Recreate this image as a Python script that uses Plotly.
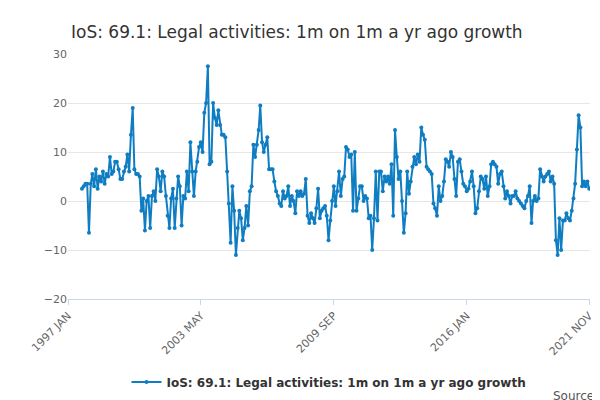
import plotly.graph_objects as go
import pandas as pd

values = [2.5, 3, 3.5, 3.5,
 -6.5, 3.5, 5.5, 3, 6.5, 2.5, 5, 4, 6, 3.5, 5.5, 5,
 9, 5.5, 6, 8, 8, 6.5, 4.5, 4.5, 6, 7, 9.5, 6,
 13.5, 19, 6.5, 5.5, 5.5, 5, -2, 0.5, -6, 0, 1, -5.5,
 1, 2, 0, 6.5, 5, 2, 6, 5, 1, -3, -5.5, 0.5,
 2.5, -5.5, 0.5, 5, 3, -5, 1, 0.5, 6, 2, 12, 6,
 1, 6, 8, 11, 12, 10, 18, 20, 27.5, 7.5, 8, 20,
 17, 15.5, 18.5, 15.5, 13.5, 13.5, 13, 6, -0.5, -8.5, 3, -2,
 -11, -5.5, -2, -3.5, -8, -5.5, -1, -5, 2, 3, 11.5, 9,
 11.5, 14.5, 19.5, 12, 10, 11.5, 13, 6.5, 6.5, 6.5, 4, 2,
 1, -0.5, -1, 2, 0.5, 1, 3, -1, 1, 0, -2.5, 2,
 1, 2, 1, 1.5, 4.5, -3, -4.5, -2.5, -3.5, -4.5, -1.5, 2.5,
 -3.5, -2, -1.5, -1, -3, -8, -4, 0, 3, -1, 2, 6,
 1, 4.5, 5, 11, 10.5, 9, 9.5, -2, 10, -2, 0.5, 3,
 3, 0, 1, 0.5, -3.5, -3, -10, -3.5, 6, -4, 6, 6,
 2, 5, 4, 5, 3.5, 7.5, -3, 14.5, 9, 4.5, 6, 0,
 -6.5, -2.5, 6, 1.5, 4, 7, 9, 7.5, 9.5, 8, 15, 13.5,
 12.5, 7, 6.5, 6, 5.5, -0.5, -1.5, -3, 3, 0, 1, 4,
 8.5, 8, 7, 10, 9, 4.5, 1, 8, 8.5, 6, 3.5, 3,
 2, 2.5, 4, 6, 3, -2.5, -1.5, 2, 5, 4.5, 2.5, 5,
 1, 3, 7.5, 8, 7.5, 7, 3.5, 5.5, 6, 3, 0.5, 2,
 1, -0.5, 1, 1, 2, 0.5, 0, -0.5, -1, -1.5, 0, 1,
 3, -4.5, 0, 1, 0, 0.5, 6.5, 5, 4, 5, 5.5, 6,
 4, 5, 3.5, -8, -11, -3.5, -10, -4, -4, -2.5, -3.5, -4,
 -2, 0.5, 3.5, 10.5, 17.5, 15, 3, 4, 3, 4, 2.5]
dates = pd.date_range("1997-09-01", periods=len(values), freq="MS")
tick_vals = ["1997-01-01", "2003-05-01", "2009-09-01", "2016-01-01", "2021-11-01"]
tick_text = ["1997 JAN", "2003 MAY", "2009 SEP", "2016 JAN", "2021 NOV"]
name = "IoS: 69.1: Legal activities: 1m on 1m a yr ago growth"

fig = go.Figure(go.Scatter(x=dates, y=values, mode="lines+markers", name=name,
    line=dict(color="#0f7dc2", width=2), marker=dict(size=4, color="#0f7dc2")))
fig.update_layout(
    width=600, height=400, plot_bgcolor="white", paper_bgcolor="white",
    font=dict(family="DejaVu Sans", color="#555"),
    title=dict(text=name, x=0.105, y=0.955, font=dict(size=17, color="#333")),
    margin=dict(l=60, r=15, t=46, b=108),
    showlegend=True,
    legend=dict(orientation="h", x=0.5, xanchor="center", y=-0.28, yanchor="top",
                font=dict(size=12, color="#333", family="DejaVu Sans, sans-serif", weight="bold")),
    annotations=[dict(text="Source:", x=1.02, xref="paper", xanchor="right", y=-0.36, yref="paper",
                      yanchor="top", showarrow=False, font=dict(size=12, color="#555"))])
fig.update_xaxes(range=["1997-01-01", "2021-11-15"], tickvals=tick_vals, ticktext=tick_text,
                 tickangle=-45, showgrid=False, showline=True, linecolor="#ccd6eb",
                 ticks="outside", tickcolor="#ccd6eb", tickfont=dict(size=11, color="#666"))
fig.update_yaxes(range=[-20, 30], dtick=10, gridcolor="#e6e6e6", zeroline=False,
                 tickfont=dict(size=11, color="#666"))
fig.write_html("out.html")
